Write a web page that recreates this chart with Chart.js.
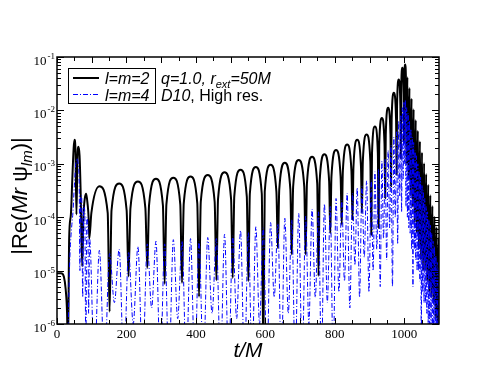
<!DOCTYPE html>
<html>
<head>
<meta charset="utf-8">
<script src="https://cdn.jsdelivr.net/npm/chart.js@4/dist/chart.umd.min.js"></script>
<style>
  html, body { margin: 0; padding: 0; background: #fff; }
  canvas { display: block; }
</style>
</head>
<body>
<canvas id="c" width="494" height="382"></canvas>
<script>
// values are [t/M, log10 |Re(M r psi_lm)|]
const l2Points = [
  [0, -5.05], [12, -5.05], [20, -5.12], [25, -5.35], [29, -5.8], [31.5, -6.6],
  [35, -4.4], [40, -3.95], [44, -3.3], [48, -2.7], [50.5, -2.55], [53, -2.7],
  [56, -3.95], [59, -2.85], [62, -2.68], [65, -2.85], [68, -3.5], [72.5, -4.92],
  [76, -4.0], [80, -3.65], [84, -3.56], [88, -3.75], [91, -4.0], [93, -4.4],
  [99, -3.92], [122, -3.42], [146, -3.92], [151.5, -5.77],
  [157, -3.87], [179, -3.37], [200.5, -3.87], [206, -5.11],
  [211.5, -3.83], [233, -3.33], [254.5, -3.83], [260, -4.95],
  [265, -3.78], [285, -3.28], [305, -3.78], [310, -5.25],
  [315, -3.76], [335, -3.26], [355, -3.76], [360, -5.23],
  [365, -3.74], [384.5, -3.24], [404, -3.74], [409, -5.49],
  [414, -3.71], [434, -3.21], [454, -3.71], [459, -5.18],
  [463.7, -3.66], [482.5, -3.16], [501.3, -3.66], [506, -5.14],
  [510.5, -3.61], [528.5, -3.11], [546.5, -3.61], [551, -5.2],
  [555.3, -3.56], [572.5, -3.06], [589.7, -3.56], [594, -6.6],
  [598.2, -3.52], [615, -3.02], [631.8, -3.52], [636, -4.58],
  [640, -3.48], [656, -2.98], [672, -3.48], [676, -4.7],
  [680, -3.43], [696, -2.93], [712, -3.43], [716, -4.7],
  [719.7, -3.37], [734.5, -2.87], [749.3, -3.37], [753, -5.1],
  [756.4, -3.32], [770, -2.82], [783.6, -3.32], [787, -4.3],
  [790.3, -3.24], [803.5, -2.74], [816.7, -3.24], [820, -4.14],
  [823.1, -3.14], [835.5, -2.64], [847.9, -3.14], [851, -4.05],
  [853.7, -3.05], [864.5, -2.55], [875.3, -3.05], [878, -3.92],
  [880.7, -2.95], [891.5, -2.45], [902.3, -2.95], [905, -4.33],
  [907.1, -2.8], [915.5, -2.3], [923.9, -2.8], [926, -4.2],
  [927.9, -2.64], [935.5, -2.14], [943.1, -2.64], [945, -3.64],
  [946.7, -2.45], [953.5, -1.95], [960.3, -2.45], [962, -3.42],
  [963.6, -2.17], [970, -1.67], [976.4, -2.17], [978, -3.2],
  [979.2, -1.92], [984, -1.42], [988.8, -1.92], [990, -2.9],
  [990.9, -1.7], [994.5, -1.2], [998.1, -1.7], [999, -2.6],
  [999.7, -1.64], [1002.5, -1.14], [1005.3, -1.64], [1006, -3.0],
  [1009, -1.38], [1012, -3.3], [1015, -1.58], [1018, -3.6], [1021, -1.78], [1024, -3.8],
  [1027, -1.98], [1030, -4.1], [1033, -2.18], [1036, -4.3], [1039, -2.38], [1042, -4.6],
  [1045, -2.58], [1048, -4.8], [1051, -2.79], [1054, -5.0], [1057, -2.99], [1060, -5.0],
  [1063, -3.19], [1066, -5.2], [1069, -3.39], [1072, -5.4], [1075, -3.59], [1078, -5.5],
  [1081, -3.79], [1084, -5.6], [1087, -3.99], [1090, -5.9], [1093, -4.19], [1096, -6.2],
  [1099, -4.39], [1100, -4.5]
];

const l4Points = [
  [30, -7], [35, -5.2], [38, -4.6], [42, -4.2], [46, -3.9], [50, -3.4], [54, -3.0],
  [58, -2.9], [61, -3.0], [64, -3.4], [66, -5.0], [68, -3.6], [71, -3.6], [74, -5.5],
  [77, -3.8], [80, -3.9], [83, -6.5], [86, -4.0], [89, -4.2], [91, -5.8], [94, -4.4],
  [107.5, -6.8], [122, -4.62], [136.8, -6.8], [151.5, -4.68], [165.3, -5.6], [179, -4.6],
  [192.5, -6.8], [206, -4.65], [219.5, -6.0], [233, -4.55], [246.5, -6.8], [260, -4.5],
  [272.5, -5.7], [285, -4.45], [297.5, -6.8], [310, -4.5], [322.5, -6.8], [335, -4.42],
  [347.5, -5.9], [360, -4.45], [372.3, -6.8], [384.5, -4.4], [396.8, -6.8], [409, -4.45],
  [421.5, -6.8], [434, -4.38], [446.5, -5.8], [459, -4.4], [470.8, -6.8], [482.5, -4.32],
  [494.3, -6.8], [506, -4.35], [517.3, -5.9], [528.5, -4.25], [539.8, -6.8], [551, -4.28],
  [561.8, -6.8], [572.5, -4.18], [583.3, -6.0], [594, -4.2], [604.5, -6.8], [615, -4.1],
  [625.5, -5.5], [636, -4.12], [646, -6.8], [656, -4.02], [666, -5.8], [676, -4.05],
  [686, -6.8], [696, -3.93], [706, -6.8], [716, -3.98], [725.3, -6.0], [734.5, -3.85],
  [743.8, -5.5], [753, -3.9], [761.5, -6.8], [770, -3.75], [778.5, -5.6], [787, -3.8],
  [795.3, -6.8], [803.5, -3.65], [811.8, -5.4], [820, -3.68], [827.8, -5.2], [835.5, -3.55],
  [843.3, -5.7], [851, -3.55], [857.8, -4.9], [864.5, -3.45], [871.3, -5.5], [878, -3.42],
  [884.8, -4.75], [891.5, -3.32], [898.3, -5.4], [905, -3.3], [910.3, -5.0], [915.5, -3.15],
  [920.8, -4.6], [926, -3.1], [930.8, -5.3], [935.5, -2.95], [940.3, -4.4], [945, -2.9],
  [949.3, -4.8], [953.5, -2.75], [957.8, -4.2], [962, -2.65], [966, -5.3], [970, -2.5],
  [974, -4.0], [978, -2.4], [981, -4.5], [984, -2.2], [987, -3.6], [990, -2.1],
  [992.3, -3.9], [994.5, -1.95], [996.8, -3.3], [999, -1.85], [1001, -3.0],
  [1003, -1.8], [1005, -3.8], [1007, -1.95], [1009, -4.0], [1011, -2.05], [1013, -4.2],
  [1015, -2.2], [1017, -4.3], [1019, -2.35], [1021, -4.6], [1023, -2.5], [1025, -5.3],
  [1027, -2.6], [1029, -4.6], [1031, -2.75], [1033, -4.8], [1035, -2.85], [1037, -5.0],
  [1039, -3.0], [1041, -5.0], [1043, -3.15], [1045, -5.2], [1047, -3.25], [1049, -6.3],
  [1051, -3.4], [1053, -5.4], [1055, -3.5], [1057, -5.6], [1059, -3.65], [1061, -5.6],
  [1063, -3.8], [1065, -5.8], [1067, -3.9], [1069, -6.0], [1071, -4.05], [1073, -6.2],
  [1075, -4.15], [1077, -6.3], [1079, -4.3], [1081, -6.5], [1083, -4.45], [1085, -6.5],
  [1087, -4.55], [1089, -6.6], [1091, -4.7], [1093, -6.7], [1095, -4.85], [1097, -6.8],
  [1099, -4.95], [1100, -6.0]
];

const xTickLabels = [0, 200, 400, 600, 800, 1000];
const xMinorTicks = [50, 100, 150, 250, 300, 350, 450, 500, 550, 650, 700, 750, 850, 900, 950, 1050];
const yDecades = [-6, -5, -4, -3, -2, -1];
const legendLabels = ['l=m=2', 'l=m=4'];

const SANS = '"Liberation Sans", Arial, sans-serif';
const SERIF = '"Liberation Serif", "Times New Roman", serif';

function toXY(pts) {
  return pts.map(([t, e]) => ({ x: t, y: Math.pow(10, e) }));
}

// draws runs of text with their own font and baseline shift
function drawRuns(ctx, runs, x, y) {
  let cx = x;
  for (const r of runs) {
    ctx.font = r.font;
    ctx.fillText(r.text, cx, y + (r.dy || 0));
    cx += ctx.measureText(r.text).width;
  }
  return cx;
}

function runsWidth(ctx, runs) {
  let w = 0;
  for (const r of runs) {
    ctx.font = r.font;
    w += ctx.measureText(r.text).width;
  }
  return w;
}

const decor = {
  id: 'decor',
  afterDraw(chart) {
    const { ctx, chartArea: a, scales: { x, y } } = chart;
    ctx.save();
    ctx.strokeStyle = '#000';
    ctx.fillStyle = '#000';

    // ticks, pointing inward on all four sides
    ctx.lineWidth = 1;
    ctx.beginPath();
    xTickLabels.concat(xMinorTicks).forEach(t => {
      const px = Math.round(x.getPixelForValue(t)) + 0.5;
      const len = t % 100 === 0 ? 6 : 4;
      ctx.moveTo(px, a.bottom); ctx.lineTo(px, a.bottom - len);
      ctx.moveTo(px, a.top); ctx.lineTo(px, a.top + len);
    });
    yDecades.forEach(d => {
      for (let k = 1; k <= 9; k++) {
        if (d === -1 && k > 1) break;
        const py = Math.round(y.getPixelForValue(k * Math.pow(10, d))) + 0.5;
        const len = k === 1 ? 7 : 4;
        ctx.moveTo(a.left, py); ctx.lineTo(a.left + len, py);
        ctx.moveTo(a.right, py); ctx.lineTo(a.right - len, py);
      }
    });
    ctx.stroke();

    // frame
    ctx.lineWidth = 1.5;
    ctx.strokeRect(a.left, a.top, a.right - a.left, a.bottom - a.top);

    // x tick labels
    ctx.font = '13px ' + SERIF;
    ctx.textAlign = 'center';
    ctx.textBaseline = 'alphabetic';
    xTickLabels.forEach(t => ctx.fillText(String(t), x.getPixelForValue(t), a.bottom + 13.5));

    // y tick labels 10^d
    yDecades.forEach(d => {
      const py = y.getPixelForValue(Math.pow(10, d));
      ctx.textAlign = 'right';
      ctx.font = '13px ' + SERIF;
      ctx.fillText('10', a.left - 10.5, py + 7.5);
      ctx.textAlign = 'left';
      ctx.font = '9px ' + SERIF;
      ctx.fillText(String(d), a.left - 9.5, py + 2);
    });

    // axis titles
    ctx.textAlign = 'left';
    const xt = [{ text: 't/M', font: 'italic 21px ' + SANS }];
    drawRuns(ctx, xt, 248 - runsWidth(ctx, xt) / 2, 357);

    const yt = [
      { text: '|Re(', font: '22px ' + SANS },
      { text: 'Mr', font: 'italic 22px ' + SANS },
      { text: ' \u03c8', font: '22px ' + SANS },
      { text: 'lm', font: 'italic 15px ' + SANS, dy: 5 },
      { text: ')|', font: '22px ' + SANS }
    ];
    ctx.save();
    ctx.translate(27, 196);
    ctx.rotate(-Math.PI / 2);
    drawRuns(ctx, yt, -runsWidth(ctx, yt) / 2, 0);
    ctx.restore();

    // legend box
    ctx.lineWidth = 1;
    ctx.strokeRect(68.5, 68.5, 87, 35);
    ctx.lineWidth = 2;
    ctx.beginPath(); ctx.moveTo(73, 78); ctx.lineTo(99, 78); ctx.stroke();
    ctx.strokeStyle = '#0000ff';
    ctx.lineWidth = 1;
    ctx.setLineDash([5, 2, 1, 2]);
    ctx.beginPath(); ctx.moveTo(73, 94.5); ctx.lineTo(99, 94.5); ctx.stroke();
    ctx.setLineDash([]);
    ctx.font = 'italic 16px ' + SANS;
    ctx.fillText(legendLabels[0], 105, 84);
    ctx.fillText(legendLabels[1], 105, 101);

    // annotation
    drawRuns(ctx, [
      { text: 'q=1.0, r', font: 'italic 16px ' + SANS },
      { text: 'ext', font: 'italic 11px ' + SANS, dy: 4 },
      { text: '=50M', font: 'italic 16px ' + SANS }
    ], 161, 84);
    drawRuns(ctx, [
      { text: 'D10', font: 'italic 16px ' + SANS },
      { text: ', High res.', font: '16px ' + SANS }
    ], 161, 101);

    ctx.restore();
  }
};

new Chart(document.getElementById('c'), {
  type: 'line',
  data: {
    datasets: [
      {
        label: legendLabels[1],
        data: toXY(l4Points),
        borderColor: '#0000ff',
        borderWidth: 1,
        borderDash: [5, 2, 1, 2],
        pointRadius: 0,
        cubicInterpolationMode: 'monotone',
        fill: false
      },
      {
        label: legendLabels[0],
        data: toXY(l2Points),
        borderColor: '#000000',
        borderWidth: 2,
        borderJoinStyle: 'round',
        pointRadius: 0,
        cubicInterpolationMode: 'monotone',
        fill: false
      }
    ]
  },
  options: {
    responsive: false,
    animation: false,
    devicePixelRatio: 1,
    layout: { padding: { left: 57, top: 57, right: 55, bottom: 58 } },
    scales: {
      x: { type: 'linear', min: 0, max: 1100, display: false },
      y: { type: 'logarithmic', min: 1e-6, max: 1e-1, display: false }
    },
    plugins: {
      legend: { display: false },
      tooltip: { enabled: false }
    }
  },
  plugins: [decor]
});
</script>
</body>
</html>
